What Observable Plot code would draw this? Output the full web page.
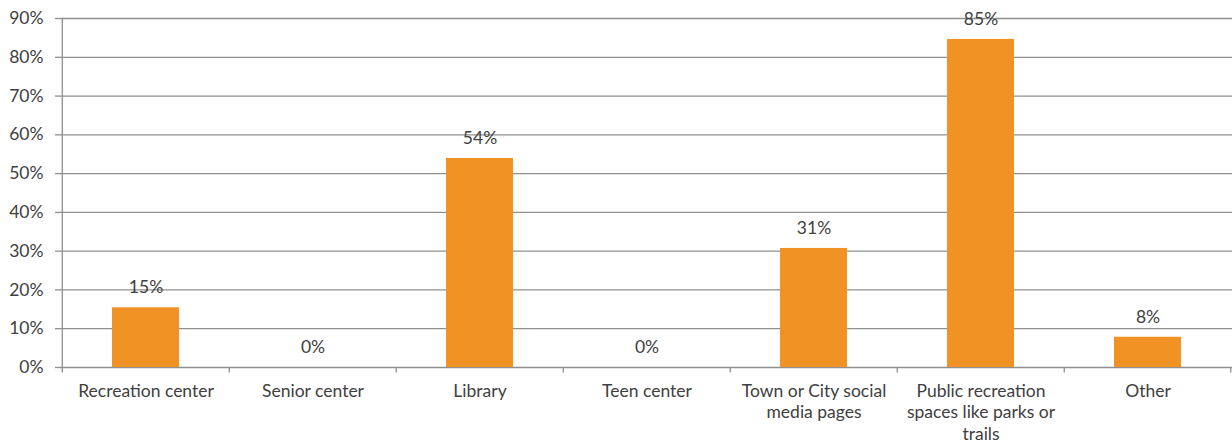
<!DOCTYPE html>
<html>
<head>
<meta charset="utf-8">
<script src="https://cdn.jsdelivr.net/npm/d3@7"></script>
<script src="https://cdn.jsdelivr.net/npm/@observablehq/plot@0.6"></script>
<style>
  html, body { margin: 0; padding: 0; background: #fff; }
  #chart svg { display: block; }
</style>
</head>
<body>
<div id="chart"></div>
<script>
const categories = ["Recreation center", "Senior center", "Library", "Teen center",
  "Town or City social media pages", "Public recreation spaces like parks or trails", "Other"];
const tickLabels = ["Recreation center", "Senior center", "Library", "Teen center",
  "Town or City social\nmedia pages", "Public recreation\nspaces like parks or\ntrails", "Other"];
const values = [15.4, 0, 53.9, 0, 30.7, 84.6, 7.8];
const valueLabels = ["15%", "0%", "54%", "0%", "31%", "85%", "8%"];
const yTicks = [0, 10, 20, 30, 40, 50, 60, 70, 80, 90];

const data = categories.map((c, i) => ({cat: c, value: values[i], label: valueLabels[i], tick: tickLabels[i]}));

const W = 1232, H = 444, mL = 60, mR = 0, mT = 18, mB = 77;
const step = (W - mL - mR) / categories.length;
const font = "Lato, 'Open Sans', sans-serif";
const fs = 17.5;
const ink = "#404040";
const gridColor = "#8f8f8f";

const chart = Plot.plot({
  width: W, height: H,
  marginLeft: mL, marginRight: mR, marginTop: mT, marginBottom: mB,
  style: {fontFamily: font, fontSize: fs + "px", color: ink, background: "#fff"},
  x: {type: "band", domain: categories, paddingInner: 0.6, paddingOuter: 0.3, axis: null},
  y: {domain: [0, 90], axis: null},
  marks: [
    Plot.ruleY(yTicks, {stroke: gridColor, strokeWidth: 1.3}),
    Plot.axisY({ticks: yTicks, tickFormat: d => d + "%", tickSize: 5, tickPadding: 12,
      stroke: gridColor, strokeWidth: 1.3, fill: ink, fontSize: fs, label: null}),
    Plot.barY(data, {x: "cat", y: "value", fill: "#F09324"}),
    Plot.ruleX([0], {x: () => categories[0], dx: -step / 2, y1: 0, y2: 90, stroke: gridColor, strokeWidth: 1.3}),
    Plot.ruleX(categories, {x: d => d, dx: -step / 2, y1: 0, y2: -1.4, stroke: gridColor, strokeWidth: 1.3}),
    Plot.ruleX([0], {x: () => categories[categories.length - 1], dx: step / 2 - 1, y1: 0, y2: -1.4, stroke: gridColor, strokeWidth: 1.3}),
    Plot.text(data, {x: "cat", y: "value", text: "label", dy: -20, lineAnchor: "middle",
      fill: ink, fontSize: fs}),
    Plot.text(data, {x: "cat", y: 0, text: "tick", dy: 14, lineAnchor: "top", lineHeight: 1.23,
      fill: ink, fontSize: fs})
  ]
});
document.getElementById("chart").appendChild(chart);
</script>
</body>
</html>
